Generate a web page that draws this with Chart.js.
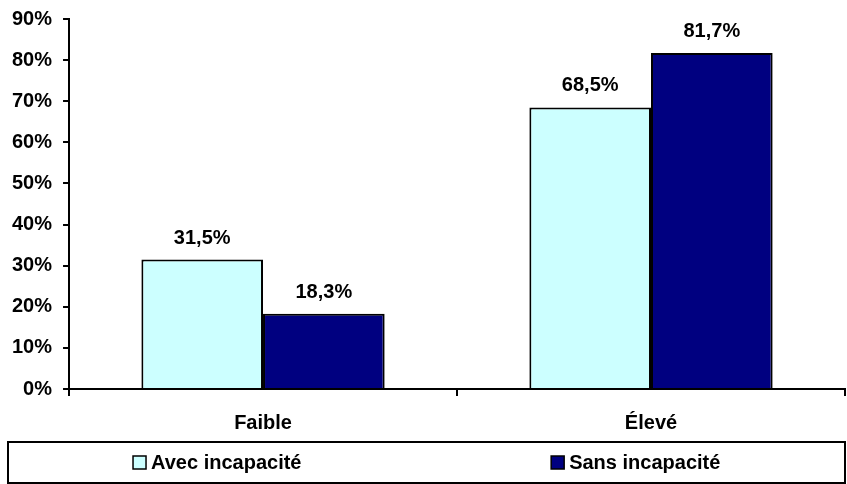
<!DOCTYPE html>
<html>
<head>
<meta charset="utf-8">
<script src="https://cdn.jsdelivr.net/npm/chart.js@4/dist/chart.umd.min.js"></script>
<style>
html,body{margin:0;padding:0;background:#fff;}
#wrap{width:847px;height:484px;}
</style>
</head>
<body>
<div id="wrap"><canvas id="c" width="847" height="484"></canvas></div>
<script>
const categories = ["Faible", "Élevé"];
const seriesNames = ["Avec incapacité", "Sans incapacité"];
const avecIncapacite = [31.5, 68.5];
const sansIncapacite = [18.3, 81.7];
const yTicks = [0, 10, 20, 30, 40, 50, 60, 70, 80, 90];

const FONT = "'Liberation Sans', Arial, sans-serif";
const FS = 20;

const valueLabels = {
  id: 'valueLabels',
  afterDatasetsDraw(chart) {
    const ctx = chart.ctx;
    ctx.save();
    ctx.font = "bold " + FS + "px " + FONT;
    ctx.fillStyle = '#000';
    ctx.textAlign = 'center';
    ctx.textBaseline = 'alphabetic';
    chart.data.datasets.forEach((ds, di) => {
      chart.getDatasetMeta(di).data.forEach((bar, i) => {
        const txt = ds.data[i].toFixed(1).replace('.', ',') + '%';
        ctx.fillText(txt, bar.x, bar.y - 16);
      });
    });
    ctx.restore();
  }
};

const boxedLegend = {
  id: 'boxedLegend',
  afterDraw(chart) {
    const ctx = chart.ctx;
    const left = 8, right = chart.width - 2;
    const top = chart.chartArea.bottom + 53, bottom = chart.height - 1;
    ctx.save();
    ctx.strokeStyle = '#000';
    ctx.lineWidth = 2;
    ctx.strokeRect(left, top, right - left, bottom - top);
    ctx.font = "bold " + FS + "px " + FONT;
    ctx.textBaseline = 'middle';
    ctx.textAlign = 'left';
    const n = chart.data.datasets.length;
    const slot = (right - left) / n;
    const cy = (top + bottom) / 2;
    chart.data.datasets.forEach((ds, i) => {
      const tw = ctx.measureText(ds.label).width;
      const box = 13, gap = 5;
      const total = box + gap + tw;
      const x0 = left + slot * i + slot / 2 - total / 2;
      ctx.fillStyle = ds.backgroundColor;
      ctx.fillRect(x0, cy - box / 2, box, box);
      ctx.lineWidth = 1.5;
      ctx.strokeStyle = '#000';
      ctx.strokeRect(x0, cy - box / 2, box, box);
      ctx.fillStyle = '#000';
      ctx.fillText(ds.label, x0 + box + gap, cy + 1);
    });
    ctx.restore();
  }
};

new Chart(document.getElementById('c'), {
  type: 'bar',
  data: {
    labels: categories,
    datasets: [
      { label: seriesNames[0], data: avecIncapacite, backgroundColor: '#CCFFFF', borderColor: '#000', borderWidth: 2 },
      { label: seriesNames[1], data: sansIncapacite, backgroundColor: '#000080', borderColor: '#000', borderWidth: 2 }
    ]
  },
  options: {
    responsive: false,
    animation: false,
    devicePixelRatio: 1,
    datasets: { bar: { categoryPercentage: 0.627, barPercentage: 1 } },
    layout: { padding: { top: 0, left: 1, right: 2, bottom: 34 } },
    plugins: {
      legend: { display: false },
      tooltip: { enabled: false }
    },
    scales: {
      x: {
        grid: { display: true, offset: true, drawOnChartArea: false, drawTicks: true, tickLength: 7, color: '#000', lineWidth: 2 },
        border: { display: true, color: '#000', width: 2 },
        ticks: { color: '#000', font: { family: FONT, size: FS, weight: 'bold' }, padding: 15 }
      },
      y: {
        min: 0, max: 90,
        afterBuildTicks(scale) { scale.ticks = yTicks.map(v => ({ value: v })); },
        grid: { display: true, drawOnChartArea: false, drawTicks: true, tickLength: 6, color: '#000', lineWidth: 2 },
        border: { display: true, color: '#000', width: 2 },
        ticks: { color: '#000', font: { family: FONT, size: FS, weight: 'bold', lineHeight: 0.8 }, padding: 11, callback: v => v + '%' }
      }
    }
  },
  plugins: [valueLabels, boxedLegend]
});
</script>
</body>
</html>
